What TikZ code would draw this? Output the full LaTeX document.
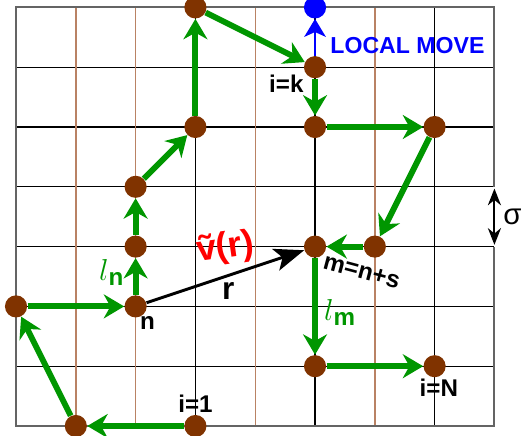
\documentclass[tikz,border=0pt]{standalone}
\usepackage{fontspec}
\setmainfont{Liberation Sans}
\usetikzlibrary{arrows.meta,positioning}
\definecolor{sitebrown}{RGB}{128,51,0}
\definecolor{chaingreen}{RGB}{0,150,0}
\definecolor{gridtan}{RGB}{185,130,100}
\definecolor{framegrey}{RGB}{100,100,100}

\begin{document}
\begin{tikzpicture}[
    site/.style={circle, fill=sitebrown, inner sep=0pt, minimum size=0.37cm},
    bond/.style={-{Stealth[length=3.4mm, width=4mm, inset=1.1mm]}, line width=2.8pt, chaingreen},
    rvec/.style={-{Stealth[length=5mm, width=3.8mm, inset=1.2mm]}, line width=1.4pt, black},
    lab/.style={font=\fontsize{11.5}{13}\selectfont\bfseries, inner sep=0pt},
    seg/.style={font=\fontsize{15}{16}\selectfont, text=chaingreen, inner sep=0pt}
]
    \useasboundingbox (-0.268,-0.167) rectangle (8.461,7.124);

    % Lattice
    \foreach \y in {1,...,6} \draw[line width=0.65pt] (0,\y) -- (8,\y);
    \foreach \x in {1,2,4,6} \draw[gridtan, line width=0.65pt] (\x,0) -- (\x,7);
    \foreach \x in {3,5,7} \draw[line width=0.65pt] (\x,0) -- (\x,7);
    \draw[framegrey, line width=0.9pt] (8,4) -- (8,7) -- (0,7) -- (0,0) -- (8,0) -- (8,3);

    % Chain sites
    \node[site] (s1) at (3,0) {};
    \node[site] (s2) at (1,0) {};
    \node[site] (s3) at (0,2) {};
    \node[site] (n) at (2,2) {};
    \node[site] (s5) at (2,3) {};
    \node[site] (s6) at (2,4) {};
    \node[site] (s7) at (3,5) {};
    \node[site] (s8) at (3,7) {};
    \node[site] (k) at (5,6) {};
    \node[site] (s10) at (5,5) {};
    \node[site] (s11) at (7,5) {};
    \node[site] (s12) at (6,3) {};
    \node[site] (m) at (5,3) {};
    \node[site] (s14) at (5,1) {};
    \node[site] (sN) at (7,1) {};

    % Bonds
    \foreach \a/\b in {s1/s2, s2/s3, s3/n, n/s5, s5/s6, s6/s7, s7/s8, s8/k,
        k/s10, s10/s11, s11/s12, s12/m, m/s14, s14/sN}
        \draw[bond] (\a) -- (\b);

    % Local move
    \node[site, fill=blue] (knew) at (5,7) {};
    \draw[-{Stealth[length=3mm, width=3.6mm, inset=0.8mm]}, line width=1pt, blue] (k) -- (knew);
    \node[font=\fontsize{11}{13}\selectfont\bfseries, text=blue, anchor=west, inner sep=0pt]
        (move) at (5.25,6.37) {LOCAL MOVE};

    % Interaction vector
    \draw[rvec] (n) -- (m);
    \node[font=\fontsize{15}{16}\selectfont\bfseries, inner sep=0pt] (r) at (3.55,2.26) {r};
    \node[font=\fontsize{17}{18}\selectfont\bfseries, text=red, rotate=8, inner sep=0pt]
        (pot) at (3.5,2.97) {\~{v}(r)};

    % Labels
    \node[lab] (ln) at (2.2,1.73) {n};
    \node[lab] (l1) at (3,0.37) {i=1};
    \node[lab] (lk) at (4.52,5.73) {i=k};
    \node[lab] (lN) at (7.07,0.64) {i=N};
    \node[lab, rotate=-15] (lm) at (5.78,2.58) {m=n+s};
    \node[seg] (bn) at (1.6,2.57) {$l$\textsubscript{\fontsize{11.5}{12}\selectfont\bfseries n}};
    \node[seg] (bm) at (5.42,1.9) {$l$\textsubscript{\fontsize{11.5}{12}\selectfont\bfseries m}};

    % Lattice spacing
    \draw[{Stealth[length=2.8mm, width=2.2mm]}-{Stealth[length=2.8mm, width=2.2mm]}, line width=0.9pt]
        (8,3.03) -- (8,3.97);
    \node[font=\fontsize{14}{15}\selectfont, inner sep=0pt] (sig) at (8.3,3.5) {σ};
\end{tikzpicture}
\end{document}
